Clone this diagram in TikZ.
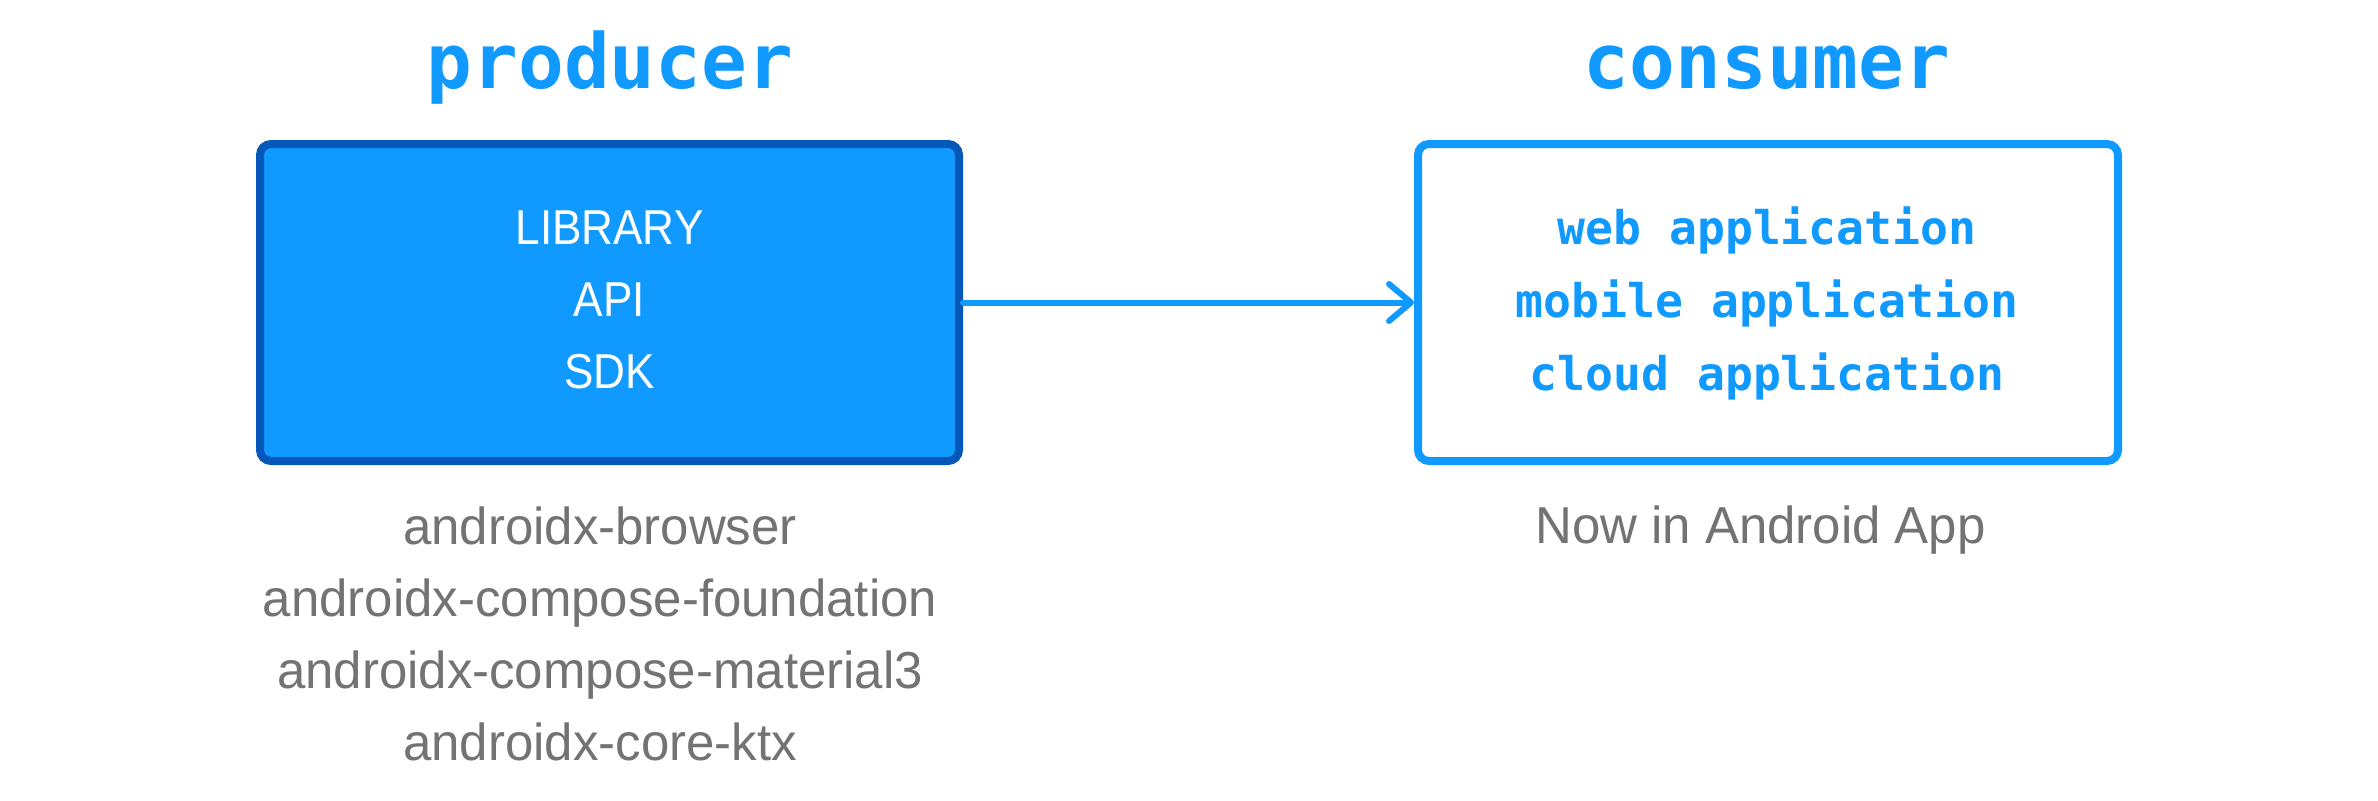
\documentclass[tikz,border=0pt]{standalone}
\usepackage{fontspec}
\setmainfont{Liberation Sans}
\newfontfamily\graysans[FakeStretch=0.98]{Liberation Sans}
\newfontfamily\capsans[FakeStretch=0.9]{Liberation Sans}
\newfontfamily\monofont{DejaVu Sans Mono}
\usetikzlibrary{arrows.meta}
\definecolor{brandblue}{HTML}{109AFF}
\definecolor{darkblue}{HTML}{0558B9}
\definecolor{labelgray}{HTML}{737373}
\tikzset{
  boxbase/.style={rectangle, rounded corners=5.5pt, line width=4pt, inner sep=0pt,
    minimum height=158.5pt},
  prodbox/.style={boxbase, draw=darkblue, fill=brandblue, minimum width=349.5pt},
  consbox/.style={boxbase, draw=brandblue, fill=white, minimum width=350pt},
  titletext/.style={anchor=base, inner sep=0pt, text=brandblue,
    font=\monofont\bfseries\fontsize{38pt}{40pt}\selectfont},
  captext/.style={anchor=base, inner sep=0pt, text=white,
    font=\capsans\fontsize{24.5pt}{26pt}\selectfont},
  monotext/.style={anchor=base, inner sep=0pt, text=brandblue,
    font=\monofont\bfseries\fontsize{23.2pt}{25pt}\selectfont},
  graytext/.style={anchor=base, inner sep=0pt, text=labelgray,
    font=\graysans\fontsize{26pt}{28pt}\selectfont},
  flowarrow/.style={draw=brandblue, line width=3pt, line cap=round,
    -{Straight Barb[length=11pt, width=18.5pt, round]}}
}
\begin{document}
\begin{tikzpicture}[x=0.5pt, y=-0.5pt]
\useasboundingbox (0,0) rectangle (2378,800);
\fill[white] (0,0) rectangle (2378,800);

% boxes
\node[prodbox] (prod) at (609.5,302.5) {};
\node[consbox] (cons) at (1768,302.5) {};

% titles
\node[titletext] (ptitle) at (610,88) {producer};
\node[titletext] (ctitle) at (1767,88) {consumer};

% producer contents
\node[captext] (lib) at (609.5,244) {LIBRARY};
\node[captext] (api) at (609.5,316) {API};
\node[captext] (sdk) at (609.5,388) {SDK};

% consumer contents
\node[monotext] (web) at (1767,244) {web application};
\node[monotext] (mob) at (1767,317) {mobile application};
\node[monotext] (cld) at (1767,390) {cloud application};

% labels below
\node[graytext] (g1) at (600,544) {androidx-browser};
\node[graytext] (g2) at (600,616) {androidx-compose-foundation};
\node[graytext] (g3) at (600,688) {androidx-compose-material3};
\node[graytext] (g4) at (600,760) {androidx-core-ktx};
\node[graytext] (nia) at (1760.5,543) {Now in Android App};

% connector
\draw[flowarrow] (prod) -- (cons);
\end{tikzpicture}
\end{document}
